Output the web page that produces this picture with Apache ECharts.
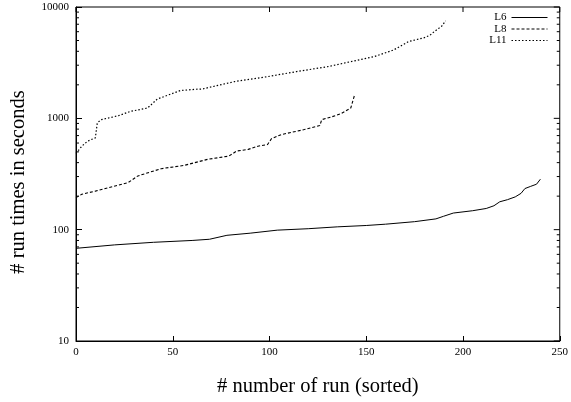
<!DOCTYPE html>
<html>
<head>
<meta charset="utf-8">
<script src="https://cdn.jsdelivr.net/npm/echarts@6/dist/echarts.min.js"></script>
<style>
html, body { margin: 0; padding: 0; background: #fff; }
#chart { width: 571px; height: 402px; }
</style>
</head>
<body>
<div id="chart"></div>
<script>
// values (run index, run time in seconds)
var runsL6  = [0, 20, 40, 60, 69, 78, 90, 104, 120, 135, 150, 160, 175, 186, 190, 195, 205, 212, 216, 219, 223, 227, 230, 232, 235, 238, 240];
var timesL6 = [68, 73, 77, 80, 82, 89, 93, 99, 102, 106, 109, 112, 118, 125, 132, 141, 148, 155, 164, 178, 186, 197, 212, 234, 245, 256, 284];

var runsL8  = [0, 3, 10, 17, 27, 32, 44, 56, 68, 79, 83, 89, 94, 99, 101, 106, 118, 126, 127, 132, 137, 142, 143, 144];
var timesL8 = [194, 208, 222, 239, 265, 304, 353, 378, 428, 458, 508, 526, 562, 582, 655, 714, 793, 861, 973, 1030, 1101, 1238, 1419, 1629];

var runsL11  = [0, 3, 6, 10, 11, 13, 22, 28, 37, 42, 49, 54, 63, 65, 82, 99, 114, 130, 142, 154, 164, 172, 180, 183, 185, 189, 191];
var timesL11 = [484, 562, 624, 668, 910, 973, 1057, 1153, 1238, 1489, 1652, 1778, 1830, 1830, 2140, 2370, 2630, 2910, 3230, 3580, 4100, 4900, 5300, 5590, 5980, 6730, 7500];

var xTicks = [0, 50, 100, 150, 200, 250];
var yMajor = [10, 100, 1000, 10000];
var yMinor = [20, 30, 40, 50, 60, 70, 80, 90,
              200, 300, 400, 500, 600, 700, 800, 900,
              2000, 3000, 4000, 5000, 6000, 7000, 8000, 9000];

function pairs(xs, ys) {
    return xs.map(function (x, i) { return [x, ys[i]]; });
}

var chart = echarts.init(document.getElementById('chart'));
var serif = 'Liberation Serif, Times New Roman, serif';
var st = { stroke: '#000', lineWidth: 1 };

function hTick(x1, x2, y) {
    return { type: 'line', shape: { x1: x1, y1: y, x2: x2, y2: y }, style: st };
}

var option = {
    animation: false,
    textStyle: { fontFamily: serif, color: '#000' },
    grid: {
        left: 75, right: 10, top: 7, bottom: 59, containLabel: false,
        show: true, borderColor: '#000', borderWidth: 1, backgroundColor: 'transparent'
    },
    legend: {
        data: ['L6', 'L8', 'L11'],
        orient: 'vertical',
        align: 'right',
        right: 18,
        top: 7,
        itemWidth: 36,
        itemHeight: 12,
        itemGap: 0.5,
        itemStyle: { color: 'rgba(0,0,0,0)', borderWidth: 0 },
        lineStyle: { width: 1 },
        textStyle: { fontFamily: serif, fontSize: 11, color: '#000' }
    },
    xAxis: {
        type: 'value',
        min: 0, max: 250, interval: 50,
        name: '# number of run (sorted)',
        nameLocation: 'middle',
        nameGap: 35,
        nameTextStyle: { fontFamily: serif, fontSize: 20.5, color: '#000' },
        axisLine: { show: true, lineStyle: { color: '#000', width: 1 } },
        axisTick: { show: true, inside: true, length: 5, lineStyle: { color: '#000' } },
        axisLabel: { fontFamily: serif, fontSize: 11, color: '#000', margin: 6 },
        splitLine: { show: false }
    },
    yAxis: {
        type: 'log',
        logBase: 10,
        min: 10, max: 10000,
        name: '# run times in seconds',
        nameLocation: 'middle',
        nameGap: 47,
        nameTextStyle: { fontFamily: serif, fontSize: 20.5, color: '#000', padding: [0, 16, 0, 0] },
        axisLine: { show: true, lineStyle: { color: '#000', width: 1 } },
        axisTick: { show: true, inside: true, length: 6, lineStyle: { color: '#000' } },
        axisLabel: {
            fontFamily: serif, fontSize: 11, color: '#000', margin: 7,
            formatter: function (v) { return String(v); }
        },
        splitLine: { show: false }
    },
    series: [{
        name: 'L6',
        type: 'line',
        symbol: 'none',
        data: pairs(runsL6, timesL6),
        lineStyle: { color: '#000', width: 1, type: 'solid' },
        itemStyle: { color: '#000' }
    }, {
        name: 'L8',
        type: 'line',
        symbol: 'none',
        data: pairs(runsL8, timesL8),
        lineStyle: { color: '#000', width: 1.1, type: [3, 2] },
        itemStyle: { color: '#000' }
    }, {
        name: 'L11',
        type: 'line',
        symbol: 'none',
        data: pairs(runsL11, timesL11),
        lineStyle: { color: '#000', width: 1.2, type: [1.5, 2] },
        itemStyle: { color: '#000' }
    }, {
        // log ticks: minor on both sides, major mirrored on the right
        name: 'yTicks',
        type: 'custom',
        silent: true,
        data: yMinor.map(function (v) { return [0, v, 3]; })
            .concat(yMajor.map(function (v) { return [0, v, 6]; })),
        renderItem: function (params, api) {
            var cs = params.coordSys;
            var y = api.coord([0, api.value(1)])[1];
            var len = api.value(2);
            var right = cs.x + cs.width;
            var kids = [hTick(right - len, right, y)];
            if (len < 6) kids.push(hTick(cs.x, cs.x + len, y));
            return { type: 'group', children: kids };
        }
    }, {
        // x ticks mirrored on the top edge
        name: 'xTopTicks',
        type: 'custom',
        silent: true,
        data: xTicks.map(function (v) { return [v, 10000]; }),
        renderItem: function (params, api) {
            var cs = params.coordSys;
            var x = api.coord([api.value(0), 10000])[0];
            return {
                type: 'line',
                shape: { x1: x, y1: cs.y, x2: x, y2: cs.y + 5 },
                style: st
            };
        }
    }]
};

chart.setOption(option);
</script>
</body>
</html>
